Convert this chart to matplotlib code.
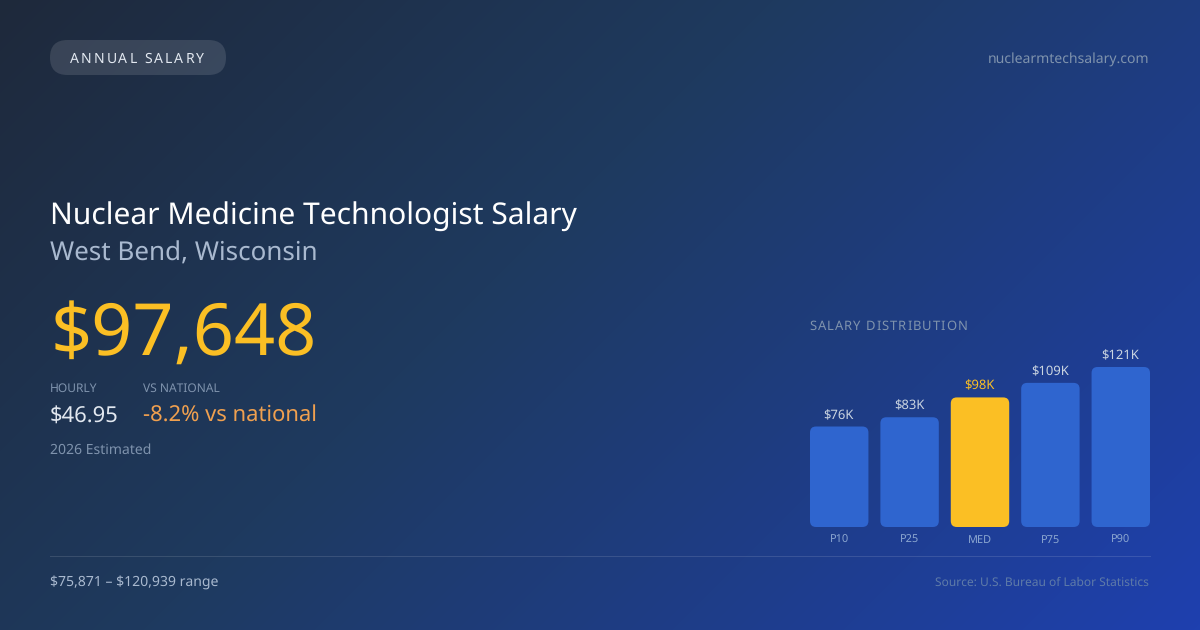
import numpy as np
from matplotlib import pyplot as plt
from matplotlib.patches import FancyBboxPatch
from matplotlib.colors import LinearSegmentedColormap
from matplotlib.text import Text
from matplotlib.transforms import IdentityTransform

plt.rcParams['font.family'] = ['Noto Sans', 'DejaVu Sans']
plt.rcParams['text.hinting'] = 'no_hinting'
plt.rcParams['text.parse_math'] = False

W, H = 1200, 630

# chart values
percentiles = ['P10', 'P25', 'MED', 'P75', 'P90']
salaries_k = [76, 83, 98, 109, 121]
bar_labels = ['$76K', '$83K', '$98K', '$109K', '$121K']
median_index = 2

BLUE = '#2f65cf'
GOLD = '#fbbf24'


class SpacedText(Text):
    # css style letter-spacing, matplotlib has no option for it
    def __init__(self, *args, spacing_px=0, **kwargs):
        super().__init__(*args, **kwargs)
        self.spacing_px = spacing_px

    def draw(self, renderer):
        x0, y0 = self.get_transform().transform(self.get_position())
        s = self.get_text()
        for i, ch in enumerate(s):
            w = renderer.get_text_width_height_descent(s[:i], self.get_fontproperties(), False)[0] if i else 0
            t = Text(x0 + w + i * self.spacing_px, y0, ch, transform=IdentityTransform(),
                     color=self.get_color(), fontproperties=self.get_fontproperties(),
                     va='baseline', ha='left', figure=self.get_figure())
            t.draw(renderer)


def px_text(x, y, s, size, color, ha='left', weight='normal', spacing=0):
    # x, y in css pixels, y is the baseline
    if spacing:
        t = SpacedText(x / W, 1 - y / H, s, spacing_px=spacing, transform=fig.transFigure,
                       fontsize=size * 0.72, color=color, va='baseline', ha='left', fontweight=weight)
        fig.add_artist(t)
        return t
    return fig.text(x / W, 1 - y / H, s, fontsize=size * 0.72, color=color, ha=ha,
                    va='baseline', fontweight=weight)


fig = plt.figure(figsize=(W / 100, H / 100), dpi=100)

# background, 135deg css gradient
bg = fig.add_axes([0, 0, 1, 1])
bg.set_xlim(0, W)
bg.set_ylim(H, 0)
bg.axis('off')
yy, xx = np.mgrid[0:H, 0:W]
grad = ((xx - W / 2) + (yy - H / 2)) / (W + H) + 0.5
cmap = LinearSegmentedColormap.from_list('bg', [(0, '#1e293b'), (0.42, '#1e3a5f'), (1, '#1e40af')])
bg.imshow(grad, cmap=cmap, extent=(0, W, H, 0), aspect='auto', vmin=0, vmax=1)

# pill and divider
bg.add_patch(FancyBboxPatch((50 + 17.5, 40 + 17.5), 176 - 35, 0, boxstyle='round,pad=17.5',
                            fc=(1, 1, 1, 0.12), ec='none'))
bg.plot([50, 1150], [556, 556], color=(1, 1, 1, 0.12), lw=0.72)

px_text(70, 63, 'ANNUAL SALARY', 14, '#e2e8f0', spacing=2)
px_text(1149, 63.6, 'nuclearmtechsalary.com', 14, '#7f93ad', ha='right')

px_text(50, 224, 'Nuclear Medicine Technologist Salary', 30, '#ffffff', weight=500)
px_text(50, 260.7, 'West Bend, Wisconsin', 26, '#a9b9cf')
px_text(51, 355, '$97,648', 72, GOLD, weight=500)

px_text(50, 392, 'HOURLY', 12, '#7f93ad')
px_text(143, 392, 'VS NATIONAL', 12, '#7f93ad')
px_text(50, 421.7, '$46.95', 22, '#e2e8f0')
px_text(143, 421.7, '-8.2% vs national', 22, '#f0a04f')
px_text(50, 454, '2026 Estimated', 14, '#7f93ad')

px_text(50, 586, '$75,871 \u2013 $120,939 range', 14, '#a9b9cf')
px_text(1149, 586, 'Source: U.S. Bureau of Labor Statistics', 12, '#5f7ba8', ha='right')

px_text(809.5, 330, 'SALARY DISTRIBUTION', 13, '#7f93ad', spacing=1)

# bars, axes spans 810-1150 px wide with the baseline at 527 px
ax = fig.add_axes([810 / W, 1 - 527 / H, 340 / W, 160 / H])
ax.patch.set_alpha(0)
xlim = (-0.415, 4.415)
ylim = (0, 121)
ax.set_xlim(xlim)
ax.set_ylim(ylim)
for s in ax.spines.values():
    s.set_visible(False)

x_per_px = (xlim[1] - xlim[0]) / 340
y_per_px = (ylim[1] - ylim[0]) / 160
bar_w = 0.83
for i, v in enumerate(salaries_k):
    color = GOLD if i == median_index else BLUE
    ax.add_patch(FancyBboxPatch((i - bar_w / 2, 0), bar_w, v,
                                boxstyle=f'round,pad=0,rounding_size={6 * x_per_px}',
                                mutation_aspect=y_per_px / x_per_px, fc=color, ec='none'))
    ax.annotate(bar_labels[i], (i - 0.01, v), xytext=(0, 3.3), textcoords='offset points', ha='center',
                va='bottom', fontsize=13 * 0.72, annotation_clip=False,
                color=GOLD if i == median_index else '#cbd5e1')

ax.set_xticks(range(len(percentiles)), percentiles, va='baseline')
ax.set_yticks([])
ax.tick_params(axis='x', length=0, pad=11.7, labelsize=11 * 0.72, labelcolor='#8ba6d0')

fig.savefig('out.png', dpi=100)
